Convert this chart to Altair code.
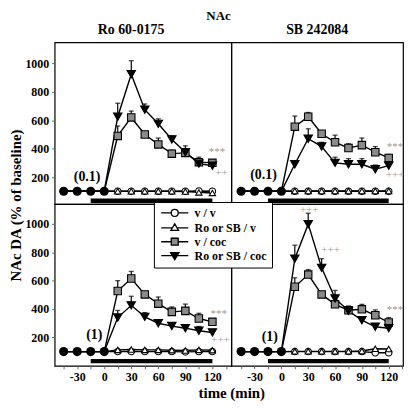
import altair as alt
import pandas as pd

FONT = "Liberation Serif"

TIME = [-45, -30, -15, 0, 15, 30, 45, 60, 75, 90, 105, 120]
SERIES = ["v / v", "Ro or SB / v", "v / coc", "Ro or SB / coc"]

# Ro 60-0175 (0.1)
TL_VV = [100, 100, 100, 100, 100, 100, 100, 100, 100, 100, 102, 100]
TL_ROV = [100, 100, 100, 100, 100, 100, 100, 100, 100, 98, 92, 88]
TL_VCOC = [100, 100, 100, 100, 490, 620, 500, 430, 365, 370, 305, 300]
TL_VCOC_ERR = [None, None, None, None, 560, 665, 520, 475, 390, 390, 320, 315]
TL_ROCOC = [100, 100, 100, 100, 625, 925, 675, 575, 465, 375, 295, 280]
TL_ROCOC_ERR = [None, None, None, None, 720, 1020, 715, 610, 490, 420, 340, 300]

# SB 242084 (0.1)
TR_VV = [100, 100, 100, 100, 100, 100, 100, 100, 100, 100, 100, 100]
TR_ROV = [100, 100, 100, 100, 102, 102, 102, 102, 102, 102, 102, 102]
TR_VCOC = [100, 100, 100, 100, 555, 625, 505, 445, 405, 425, 375, 335]
TR_VCOC_ERR = [None, None, None, None, 630, 655, 525, 495, 435, 475, 415, 360]
TR_ROCOC = [100, 100, 100, 100, 290, 470, 415, 300, 290, 290, 255, 280]
TR_ROCOC_ERR = [None, None, None, None, 300, 540, 445, 340, 330, 330, 285, 295]

# Ro 60-0175 (1)
BL_VV = [100, 100, 100, 100, 100, 100, 100, 100, 100, 98, 100, 100]
BL_ROV = [100, 100, 100, 100, 112, 115, 112, 112, 110, 108, 112, 110]
BL_VCOC = [100, 100, 100, 100, 527, 615, 503, 438, 380, 387, 333, 310]
BL_VCOC_ERR = [None, None, None, None, 600, 665, 515, 485, 415, 435, 370, 320]
BL_ROCOC = [100, 100, 100, 100, 340, 426, 345, 300, 280, 265, 247, 235]
BL_ROCOC_ERR = [None, None, None, None, 390, 490, 375, 312, 300, 285, 277, 250]

# SB 242084 (1)
BR_VV = [100, 100, 100, 100, 100, 100, 100, 100, 100, 100, 92, 92]
BR_ROV = [100, 100, 100, 100, 102, 102, 102, 102, 102, 104, 120, 118]
BR_VCOC = [100, 100, 100, 100, 557, 643, 503, 433, 391, 398, 356, 305]
BR_VCOC_ERR = [None, None, None, None, 620, 678, 510, 445, 410, 433, 394, 340]
BR_ROCOC = [100, 100, 100, 100, 755, 998, 690, 475, 387, 321, 275, 265]
BR_ROCOC_ERR = [None, None, None, None, 850, 1075, 755, 531, 422, 345, 290, 280]

BASE_TIME = [-45, -30, -15, 0]
BASE_VALUE = [100, 100, 100, 100]

BAR_START = -15
BAR_END = 120
BAR_Y = 33

ANN_PANEL = ["TL", "TL", "TL", "TR", "TR", "TR", "BL", "BL", "BL", "BR", "BR", "BR", "BR"]
ANN_X = [125, 130, -19, 127, 127, -20, 127, 129, -11, 127, 31, 55, -13]
ANN_Y = [375, 228, 200, 410, 212, 212, 368, 184, 216, 391, 1100, 814, 200]
ANN_TEXT = ["***", "++", "(0.1)", "***", "+++", "(0.1)", "***", "+++", "(1)", "***", "+++", "+++", "(1)"]
ANN_KIND = ["sig", "sig", "dose", "sig", "sig", "dose", "sig", "sig", "dose", "sig", "sig", "sig", "dose"]

FILLS = ["white", "white", "#8a8a8a", "black"]
STROKES = ["black", "black", "black", "black"]
LEGEND_PATHS = [
    "M-3.9,0L-1,0M1,0L3.9,0M1,0A1,1,0,1,1,-1,0A1,1,0,1,1,1,0Z",
    "M-3.9,0L-0.67,0M0.67,0L3.9,0M0,-1.15L1.1,0.75L-1.1,0.75Z",
    "M-3.9,0L-1,0M1,0L3.9,0M-1,-1L1,-1L1,1L-1,1Z",
    "M-3.9,0L3.9,0M-1.2,-0.85L1.2,-0.85L0,1.2Z",
]


def make_df(vv, rov, vcoc, vcoc_e, rococ, rococ_e):
    rows = []
    for s, vals, errs in [(SERIES[0], vv, None), (SERIES[1], rov, None),
                          (SERIES[2], vcoc, vcoc_e), (SERIES[3], rococ, rococ_e)]:
        for i, t in enumerate(TIME):
            rows.append({"series": s, "time": t, "value": vals[i],
                         "err": (errs[i] if errs is not None else None)})
    return pd.DataFrame(rows)


ann_df = pd.DataFrame({"panel": ANN_PANEL, "time": ANN_X, "value": ANN_Y,
                       "label": ANN_TEXT, "kind": ANN_KIND})
base_df = pd.DataFrame({"time": BASE_TIME, "value": BASE_VALUE})
bar_df = pd.DataFrame({"time": [BAR_START], "time2": [BAR_END], "value": [BAR_Y]})

XTICKS = [-45, -30, -15, 0, 15, 30, 45, 60, 75, 90, 105, 120, 135]
YTICKS = [200, 400, 600, 800, 1000]


def x_axis(title=None, title_x=None):
    kw = dict(values=XTICKS, labelExpr="datum.value % 30 == 0 ? '' + datum.value : ''",
              grid=False, domain=False, ticks=True, tickSize=3, tickColor="#666",
              labelFont=FONT, labelFontSize=12, labelFontWeight="bold", labelColor="black",
              labelPadding=3, labelFlush=False, labelOverlap=False)
    if title is None:
        kw["title"] = None
    else:
        kw.update(title=title, titleFont=FONT, titleFontSize=15, titleFontWeight="bold",
                  titleColor="black", titlePadding=3, titleX=title_x)
    return alt.Axis(**kw)


def y_axis(title=None, title_y=None):
    kw = dict(values=YTICKS, format="d", grid=False, domain=False, ticks=True, tickSize=3,
              tickColor="#666", labelFont=FONT, labelFontSize=12, labelFontWeight="bold",
              labelColor="black", labelPadding=3)
    if title is None:
        kw["title"] = None
    else:
        kw.update(title=title, titleFont=FONT, titleFontSize=15, titleFontWeight="bold",
                  titleColor="black", titlePadding=1, titleY=title_y)
    return alt.Axis(**kw)


def panel(pid, df, xdom, ydom, width, height, xaxis, yaxis, title=None, legend=False):
    xs = alt.Scale(domain=xdom, nice=False, zero=False)
    ys = alt.Scale(domain=ydom, nice=False, zero=False)
    X = alt.X("time:Q", scale=xs, axis=xaxis)
    Y = alt.Y("value:Q", scale=ys, axis=yaxis)
    YE = alt.Y("err:Q", scale=ys, axis=yaxis)
    base = alt.Chart(df)
    lines = base.mark_line(color="black", strokeWidth=1.4).encode(x=X, y=Y, detail="series:N")
    err = base.transform_filter("datum.err != null")
    rules = err.mark_rule(color="black", strokeWidth=1.2).encode(x=X, y=Y, y2="err")
    caps = err.mark_tick(color="black", thickness=1.3, size=5, orient="horizontal").encode(
        x=X, y=YE)
    layers = [lines, rules, caps]
    specs = [("circle", "white", 42), ("triangle-up", "white", 40),
             ("square", FILLS[2], 56), ("triangle-down", "black", 72)]
    for s, (shape, fill, size) in zip(SERIES, specs):
        layers.append(base.transform_filter((alt.datum.series == s) & (alt.datum.time > 0))
                      .mark_point(shape=shape, filled=True, fill=fill, stroke="black",
                                  strokeWidth=1.1, size=size, opacity=1).encode(x=X, y=Y))
    layers.append(alt.Chart(base_df).mark_point(shape="circle", filled=True, fill="black",
                                               size=85, opacity=1).encode(x=X, y=Y))
    layers.append(alt.Chart(bar_df).mark_rule(color="black", strokeWidth=4.5).encode(
        x=X, x2="time2", y=Y))
    a = alt.Chart(ann_df).transform_filter(alt.datum.panel == pid)
    layers.append(a.transform_filter(alt.datum.kind == "sig").mark_text(
        font=FONT, fontSize=11, color="#9a9a9a").encode(x=X, y=Y, text="label:N"))
    layers.append(a.transform_filter(alt.datum.kind == "dose").mark_text(
        font=FONT, fontSize=14, fontWeight="bold", color="black").encode(x=X, y=Y, text="label:N"))
    if legend:
        leg = alt.Legend(title=None, orient="none", legendX=100, legendY=161,
                         padding=5, strokeColor="black", fillColor="white",
                         labelFont=FONT, labelFontSize=12, labelFontWeight="bold",
                         labelColor="black", symbolSize=49, symbolStrokeWidth=1.3,
                         symbolStrokeColor="black", symbolOpacity=1, rowPadding=1,
                         symbolOffset=10, labelOffset=14)
        dummy = alt.Chart(pd.DataFrame({"series": SERIES})).mark_point(
            filled=True, opacity=0).encode(
            shape=alt.Shape("series:N", scale=alt.Scale(domain=SERIES, range=LEGEND_PATHS), legend=leg),
            fill=alt.Fill("series:N", scale=alt.Scale(domain=SERIES, range=FILLS), legend=leg),
            stroke=alt.Stroke("series:N", scale=alt.Scale(domain=SERIES, range=STROKES), legend=leg))
        layers.append(dummy)
    ch = alt.layer(*layers).properties(width=width, height=height)
    if title is not None:
        ch = ch.properties(title=title)
    return ch


def ptitle(text, dx):
    return alt.TitleParams(text, font=FONT, fontSize=14, fontWeight="bold", color="black",
                           offset=5, dx=dx, anchor="middle")


WL, WR, HT, HB = 178, 173, 163, 163
XL = [-55, 141]
XR = [-56, 136]
YT = [10, 1150]
YB = [0, 1140]

tl = panel("TL", make_df(TL_VV, TL_ROV, TL_VCOC, TL_VCOC_ERR, TL_ROCOC, TL_ROCOC_ERR),
           XL, YT, WL, HT, None, y_axis("NAc DA (% of baseline)", HT + 1),
           title=ptitle("Ro 60-0175", -12))
tr = panel("TR", make_df(TR_VV, TR_ROV, TR_VCOC, TR_VCOC_ERR, TR_ROCOC, TR_ROCOC_ERR),
           XR, YT, WR, HT, None, None, title=ptitle("SB 242084", 0))
bl = panel("BL", make_df(BL_VV, BL_ROV, BL_VCOC, BL_VCOC_ERR, BL_ROCOC, BL_ROCOC_ERR),
           XL, YB, WL, HB, x_axis("time (min)", WL), y_axis(), legend=True)
br = panel("BR", make_df(BR_VV, BR_ROV, BR_VCOC, BR_VCOC_ERR, BR_ROCOC, BR_ROCOC_ERR),
           XR, YB, WR, HB, x_axis(), None)

chart = alt.concat(tl, tr, bl, br, columns=2, spacing=0, bounds="flush").properties(
    title=alt.TitleParams("NAc", font=FONT, fontSize=13, fontWeight="bold", color="black",
                          offset=0, anchor="middle", dx=12),
    padding={"left": 0, "top": 0, "right": 0, "bottom": 2},
    background="white",
).configure_view(stroke="black", strokeWidth=1.2)

chart.save("out.html", embed_options={"renderer": "svg", "actions": False})
